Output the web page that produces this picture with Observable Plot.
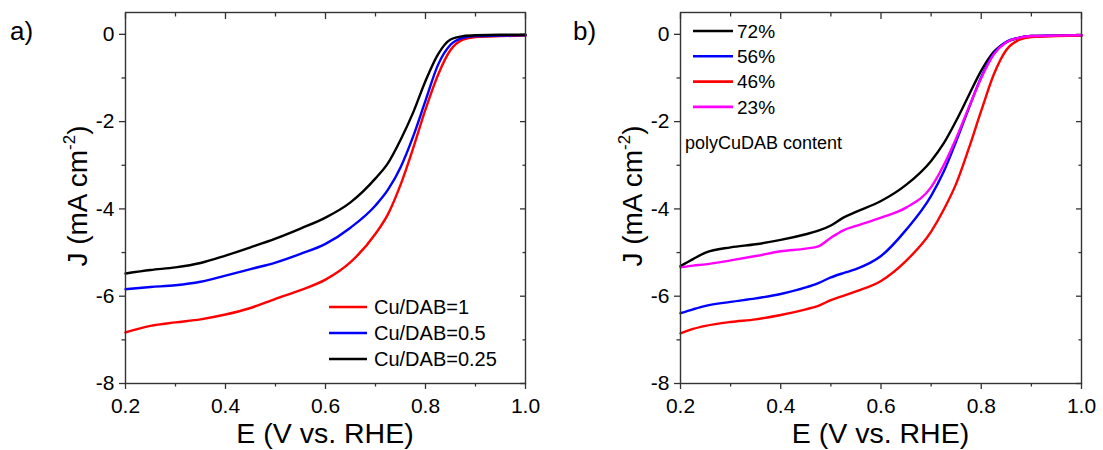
<!DOCTYPE html>
<html>
<head>
<meta charset="utf-8">
<script src="https://cdn.jsdelivr.net/npm/d3@7"></script>
<script src="https://cdn.jsdelivr.net/npm/@observablehq/plot@0.6"></script>
<style>
  html, body { margin: 0; padding: 0; background: #fff; }
  #wrap { position: relative; width: 1103px; height: 450px; overflow: hidden; }
  .panel { position: absolute; top: 0; }
</style>
</head>
<body>
<div id="wrap"></div>
<script>
// ---------- data ----------
const xMajor = [0.2, 0.4, 0.6, 0.8, 1.0];
const xMinor = [0.3, 0.5, 0.7, 0.9];
const yMajor = [0, -2, -4, -6, -8];
const yMinor = [-1, -3, -5, -7];

// panel a
const potentialA = [0.2, 0.25, 0.3, 0.35, 0.4, 0.45, 0.5, 0.55, 0.6, 0.65, 0.7, 0.725, 0.75, 0.775, 0.8, 0.825, 0.85, 0.875, 0.9, 0.95, 1.0];
const namesA = ["Cu/DAB=1", "Cu/DAB=0.5", "Cu/DAB=0.25"];
const colorsA = ["#ff0000", "#0000ff", "#000000"];
const jCuDab1 = [-6.83, -6.68, -6.60, -6.53, -6.42, -6.27, -6.06, -5.86, -5.62, -5.22, -4.57, -4.12, -3.45, -2.62, -1.72, -0.93, -0.36, -0.12, -0.06, -0.04, -0.03];
const jCuDab05 = [-5.84, -5.79, -5.75, -5.67, -5.53, -5.38, -5.23, -5.03, -4.80, -4.43, -3.92, -3.56, -3.05, -2.35, -1.52, -0.70, -0.24, -0.08, -0.04, -0.03, -0.02];
const jCuDab025 = [-5.48, -5.40, -5.34, -5.24, -5.07, -4.88, -4.68, -4.45, -4.20, -3.85, -3.30, -2.95, -2.42, -1.80, -1.07, -0.46, -0.12, -0.04, -0.02, -0.01, -0.01];

// panel b
const potentialB = [0.2, 0.225, 0.25, 0.3, 0.35, 0.4, 0.45, 0.475, 0.5, 0.525, 0.55, 0.6, 0.65, 0.7, 0.725, 0.75, 0.775, 0.8, 0.825, 0.85, 0.875, 0.9, 0.95, 1.0];
const namesB = ["72%", "56%", "46%", "23%"];
const colorsB = ["#000000", "#0000ff", "#ff0000", "#ff00ff"];
const j72 = [-5.31, -5.15, -5.00, -4.88, -4.81, -4.71, -4.58, -4.50, -4.38, -4.20, -4.07, -3.82, -3.45, -2.90, -2.50, -1.98, -1.40, -0.83, -0.40, -0.18, -0.08, -0.04, -0.03, -0.02];
const j56 = [-6.39, -6.30, -6.22, -6.13, -6.05, -5.95, -5.80, -5.70, -5.57, -5.47, -5.38, -5.08, -4.48, -3.70, -3.15, -2.45, -1.70, -0.98, -0.44, -0.17, -0.08, -0.04, -0.03, -0.02];
const j46 = [-6.85, -6.75, -6.68, -6.59, -6.53, -6.43, -6.30, -6.22, -6.09, -5.99, -5.89, -5.65, -5.19, -4.52, -4.02, -3.42, -2.62, -1.75, -0.92, -0.36, -0.13, -0.06, -0.04, -0.03];
const j23 = [-5.34, -5.30, -5.27, -5.18, -5.08, -4.97, -4.91, -4.86, -4.66, -4.49, -4.39, -4.20, -3.97, -3.50, -3.00, -2.38, -1.68, -1.00, -0.46, -0.18, -0.08, -0.04, -0.03, -0.02];

const xTitle = "E (V vs. RHE)";
const legendNoteB = "polyCuDAB content";

// ---------- drawing ----------
const FONT = '"Liberation Sans", Arial, sans-serif';
const FRAME = "#333";

function makePanel(cfg) {
  const rows = cfg.series.flatMap((vals, k) =>
    cfg.E.map((e, i) => ({E: e, J: vals[i], name: cfg.names[k]})));
  const H = 450, mt = 12, mb = 67;
  const plot = Plot.plot({
    width: cfg.width, height: H,
    marginLeft: cfg.ml, marginRight: cfg.mr, marginTop: mt, marginBottom: mb,
    style: {fontFamily: FONT, fontSize: "21px", color: "#000", background: "#fff", overflow: "visible"},
    x: {domain: [0.2, 1.0]},
    y: {domain: [-8, 0.5]},
    color: {domain: cfg.names, range: cfg.colors},
    marks: [
      Plot.axisX(xMajor, {tickSize: 6, tickPadding: 9, stroke: FRAME, strokeWidth: 1.3, tickFormat: d3.format(".1f"), label: null, fontSize: 21}),
      Plot.axisX(xMinor, {tickSize: 3.5, stroke: FRAME, strokeWidth: 1.3, tickFormat: () => "", label: null}),
      Plot.axisX(xMajor, {anchor: "top", tickSize: 6, dy: 6, stroke: FRAME, strokeWidth: 1.3, tickFormat: () => "", label: null}),
      Plot.axisX(xMinor, {anchor: "top", tickSize: 3.5, dy: 3.5, stroke: FRAME, strokeWidth: 1.3, tickFormat: () => "", label: null}),
      Plot.axisY(yMajor, {tickSize: 6, tickPadding: 5, stroke: FRAME, strokeWidth: 1.3, tickFormat: d => String(d), label: null, fontSize: 21}),
      Plot.axisY(yMinor, {tickSize: 3.5, stroke: FRAME, strokeWidth: 1.3, tickFormat: () => "", label: null}),
      Plot.axisY(yMajor, {anchor: "right", tickSize: 6, dx: -6, stroke: FRAME, strokeWidth: 1.3, tickFormat: () => "", label: null}),
      Plot.axisY(yMinor, {anchor: "right", tickSize: 3.5, dx: -3.5, stroke: FRAME, strokeWidth: 1.3, tickFormat: () => "", label: null}),
      Plot.line(rows, {x: "E", y: "J", z: "name", stroke: "name", strokeWidth: 2.4, curve: "monotone-x"}),
      Plot.frame({stroke: FRAME, strokeWidth: 1.4})
    ]
  });
  const svg = d3.select(plot);
  const frameL = cfg.ml, frameR = cfg.width - cfg.mr;
  const txt = (x, y) => svg.append("text").attr("x", x).attr("y", y)
    .attr("font-family", FONT).attr("fill", "#000").attr("text-anchor", "start");
  // panel letter
  txt(cfg.letterX, 40).attr("font-size", 26).text(cfg.letter);
  // x title
  txt((frameL + frameR) / 2, 443).attr("text-anchor", "middle").attr("font-size", 28.5).text(xTitle);
  // y title
  const yt = svg.append("text")
    .attr("transform", `translate(${frameL - 38},196) rotate(-90)`)
    .attr("text-anchor", "middle").attr("font-size", 28).attr("font-family", FONT).attr("fill", "#000");
  yt.append("tspan").text("J (mA cm");
  yt.append("tspan").attr("dy", -12).attr("font-size", 17).text("-2");
  yt.append("tspan").attr("dy", 12).text(")");
  // legend
  const lg = cfg.legend;
  cfg.names.forEach((n, i) => {
    const y = lg.y0 + i * lg.dy;
    svg.append("line").attr("x1", lg.x1).attr("x2", lg.x2).attr("y1", y).attr("y2", y)
      .attr("stroke", cfg.colors[i]).attr("stroke-width", 2.6);
    txt(lg.tx, y).attr("dy", "0.36em").attr("font-size", lg.fs).text(n);
  });
  if (cfg.note) {
    txt(cfg.note.x, cfg.note.y).attr("dy", "0.36em").attr("font-size", 18).text(cfg.note.text);
  }
  const div = document.createElement("div");
  div.className = "panel";
  div.style.left = cfg.left + "px";
  div.appendChild(plot);
  document.getElementById("wrap").appendChild(div);
}

makePanel({
  left: 0, width: 551, ml: 125, mr: 26,
  E: potentialA, series: [jCuDab1, jCuDab05, jCuDab025], names: namesA, colors: colorsA,
  letter: "a)", letterX: 10,
  legend: {x1: 329, x2: 367, tx: 374, y0: 307, dy: 26, fs: 20}
});
makePanel({
  left: 553, width: 550, ml: 127, mr: 22,
  E: potentialB, series: [j72, j56, j46, j23], names: namesB, colors: colorsB,
  letter: "b)", letterX: 20,
  legend: {x1: 140, x2: 180, tx: 184, y0: 31, dy: 25.3, fs: 19},
  note: {x: 132, y: 143, text: legendNoteB}
});
</script>
</body>
</html>
